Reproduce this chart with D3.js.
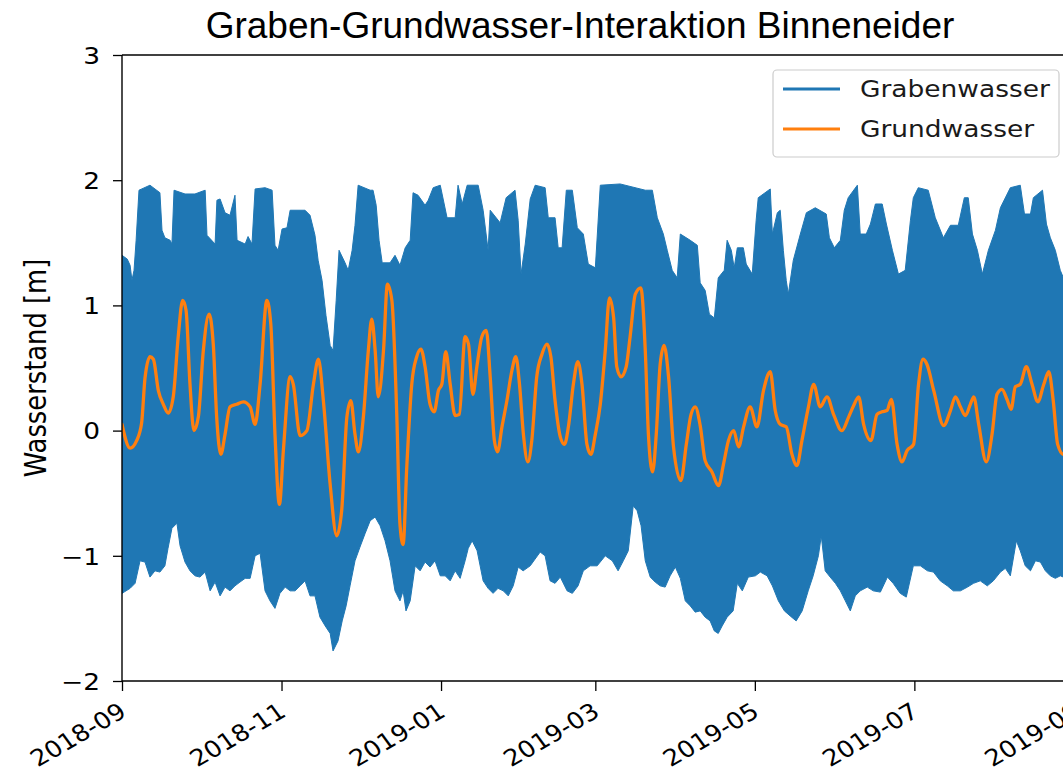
<!DOCTYPE html>
<html>
<head>
<meta charset="utf-8">
<script src="https://cdn.jsdelivr.net/npm/d3@7"></script>
<style>
  html, body { margin: 0; padding: 0; background: #ffffff; }
  svg { display: block; overflow: hidden; }
</style>
</head>
<body>
<svg id="chart" width="1063" height="776"></svg>
<script>
// ---------------- DATA ----------------
const chartTitle = "Graben-Grundwasser-Interaktion Binneneider";
const yLabel = "Wasserstand [m]";
const seriesNames = ["Grabenwasser", "Grundwasser"];
const startDate = "2018-09-01";           // time values below are days since this date
const xTickLabels = ["2018-09", "2018-11", "2019-01", "2019-03", "2019-05", "2019-07", "2019-09"];
const yTickValues = [-2, -1, 0, 1, 2, 3];

// Grabenwasser: tidal signal, upper envelope (high water) and lower envelope (low water)
const highDay = [0, 2, 3.1, 3.8, 4.6, 5.4, 6.5, 10.7, 14.5, 15.3, 16.4, 18.4, 19.1, 19.9, 24.1, 27.9, 31.8, 32.5, 35.6, 36.3,
  37.5, 39.4, 41.3, 43.2, 44.0, 47.1, 48.2, 49.7, 50.9, 54.7, 57.4, 58.5, 59.7, 61.2, 63.1, 64.3, 70.0, 71.9, 73.8, 75.0,
  76.5, 78.0, 79.6, 80.7, 81.9, 83.0, 85.3, 86.5, 88.0, 89.1, 90.3, 94.9, 96.0, 97.2, 98.3, 99.5, 102.5, 104.4, 106.3, 108.3,
  110.2, 111.3, 113.2, 115.9, 117.1, 119.0, 121.7, 124.3, 127.4, 128.5, 130.1, 132.0, 136.2, 138.1, 140.0, 140.8, 144.6, 146.9, 150.3, 151.5,
  152.6, 154.2, 156.1, 158.0, 161.8, 163.0, 165.6, 166.8, 168.3, 169.9, 172.2, 174.1, 176.4, 178.3, 181.0, 182.9, 190.5, 200.1, 202.8, 204.7,
  207.0, 208.5, 210.4, 212.3, 213.5, 217.3, 220.0, 221.1, 223.0, 224.6, 226.5, 228.0, 230.3, 231.4, 233.0, 234.1, 235.3, 237.6, 238.7, 241.0,
  242.5, 243.3, 247.9, 248.7, 250.6, 251.7, 252.9, 254.0, 254.8, 256.7, 259.4, 261.7, 265.1, 269.3, 270.5, 272.4, 274.7, 276.2, 277.7, 281.2,
  282.3, 284.6, 286.2, 288.1, 290.7, 292.3, 294.6, 296.9, 299.5, 301.5, 302.6, 304.5, 308.3, 311.0, 314.1, 316.8, 319.8, 322.1, 323.6, 325.2,
  327.1, 329.0, 331.3, 334.0, 335.9, 339.7, 343.5, 345.1, 347.4, 348.5, 352.0, 353.5, 355.0, 356.9, 358.8, 360.0, 363.0, 366.0];
const highLevel = [1.40, 1.37, 1.32, 1.20, 1.28, 1.52, 1.92, 1.96, 1.90, 1.60, 1.54, 1.52, 1.49, 1.92, 1.89, 1.89, 1.92, 1.56, 1.49, 1.84,
  1.85, 1.74, 1.72, 1.88, 1.52, 1.49, 1.55, 1.49, 1.93, 1.94, 1.92, 1.48, 1.44, 1.61, 1.62, 1.76, 1.76, 1.72, 1.56, 1.36,
  1.20, 0.92, 0.68, 0.64, 1.04, 1.44, 1.34, 1.28, 1.44, 1.64, 1.96, 1.92, 1.92, 1.80, 1.52, 1.34, 1.34, 1.40, 1.32, 1.46,
  1.52, 1.90, 1.88, 1.80, 1.84, 1.94, 1.96, 1.70, 1.70, 1.96, 1.81, 1.96, 1.96, 1.76, 1.44, 1.76, 1.66, 1.86, 1.92, 1.68,
  1.25, 1.49, 1.85, 1.96, 1.94, 1.70, 1.70, 1.46, 1.46, 1.92, 1.92, 1.62, 1.57, 1.33, 1.30, 1.96, 1.97, 1.92, 1.92, 1.70,
  1.57, 1.44, 1.28, 1.22, 1.57, 1.52, 1.48, 1.18, 1.12, 0.93, 0.90, 1.22, 1.28, 1.52, 1.44, 1.30, 1.46, 1.46, 1.33, 1.25,
  1.68, 1.86, 1.93, 1.57, 1.74, 1.76, 1.44, 1.20, 1.09, 1.36, 1.57, 1.74, 1.78, 1.73, 1.54, 1.46, 1.52, 1.76, 1.86, 1.96,
  1.57, 1.57, 1.65, 1.81, 1.81, 1.65, 1.44, 1.25, 1.28, 1.68, 1.86, 1.94, 1.92, 1.70, 1.54, 1.64, 1.64, 1.86, 1.86, 1.57,
  1.44, 1.25, 1.44, 1.60, 1.78, 1.94, 1.96, 1.73, 1.73, 1.86, 1.92, 1.65, 1.54, 1.44, 1.28, 1.22, 1.25, 1.30];

const lowDay = [0, 3.1, 5.0, 6.9, 8.8, 10.7, 12.6, 14.5, 16.4, 17.6, 19.1, 21.0, 22.2, 24.1, 26.0, 27.9, 29.8, 31.8, 33.7, 35.6,
  37.5, 39.4, 41.3, 43.2, 45.1, 47.1, 49.0, 50.9, 52.8, 54.7, 56.6, 58.5, 60.4, 62.4, 64.3, 66.2, 68.1, 70.0, 71.9, 73.8,
  75.7, 77.7, 79.6, 80.7, 82.6, 84.2, 85.7, 87.2, 89.1, 91.0, 93.0, 94.9, 96.8, 98.7, 100.6, 102.5, 104.4, 106.3, 107.5, 108.6,
  110.2, 112.1, 114.0, 115.9, 117.8, 119.7, 121.7, 123.6, 125.5, 127.4, 129.3, 131.2, 132.4, 133.9, 135.8, 138.1, 140.0, 141.9, 143.8, 145.8,
  147.7, 149.6, 151.5, 153.4, 156.1, 159.9, 161.8, 163.7, 165.6, 167.6, 170.2, 172.2, 174.4, 176.4, 179.0, 181.7, 184.8, 187.5, 189.7, 191.7,
  193.6, 195.5, 197.0, 198.5, 200.1, 202.0, 203.9, 205.8, 207.7, 209.6, 211.6, 213.5, 215.4, 217.3, 219.2, 221.1, 223.0, 224.9, 226.5, 228.0,
  229.5, 231.4, 233.7, 235.3, 237.2, 239.5, 242.2, 244.1, 246.7, 248.7, 251.0, 253.3, 255.5, 257.8, 260.1, 262.4, 264.3, 266.3, 267.4, 268.9,
  270.8, 272.8, 274.7, 276.6, 278.5, 280.4, 282.3, 285.0, 287.3, 290.0, 292.7, 294.9, 297.6, 299.9, 302.6, 305.3, 308.0, 310.3, 312.9, 315.6,
  317.9, 320.6, 323.3, 325.6, 328.2, 330.9, 333.2, 335.9, 337.8, 339.7, 342.0, 343.5, 345.4, 347.4, 349.3, 351.2, 353.1, 355.0, 356.9, 358.8,
  360.0, 366.0];
const lowLevel = [-1.30, -1.26, -1.22, -1.04, -1.05, -1.17, -1.12, -1.13, -1.08, -0.94, -0.78, -0.74, -0.92, -1.05, -1.12, -1.16, -1.17, -1.13, -1.28, -1.21,
  -1.32, -1.25, -1.28, -1.24, -1.21, -1.18, -1.18, -1.00, -0.98, -1.28, -1.36, -1.42, -1.30, -1.25, -1.28, -1.28, -1.24, -1.20, -1.32, -1.32,
  -1.49, -1.56, -1.62, -1.76, -1.68, -1.52, -1.40, -1.24, -1.04, -0.93, -0.82, -0.72, -0.69, -0.76, -0.88, -1.04, -1.28, -1.36, -1.28, -1.44,
  -1.36, -1.08, -1.12, -1.05, -1.09, -1.04, -1.16, -1.16, -1.20, -1.12, -1.18, -1.04, -0.94, -0.88, -0.96, -1.20, -1.26, -1.30, -1.26, -1.28,
  -1.32, -1.24, -1.09, -1.12, -1.08, -0.97, -1.00, -1.20, -1.22, -1.17, -1.28, -1.30, -1.24, -1.12, -1.08, -1.08, -1.00, -1.04, -1.12, -1.04,
  -0.96, -0.60, -0.64, -0.76, -1.04, -1.17, -1.21, -1.24, -1.25, -1.16, -1.09, -1.18, -1.36, -1.40, -1.45, -1.44, -1.49, -1.52, -1.60, -1.62,
  -1.56, -1.49, -1.44, -1.22, -1.28, -1.17, -1.16, -1.13, -1.16, -1.24, -1.36, -1.44, -1.48, -1.52, -1.44, -1.28, -1.16, -1.00, -0.84, -1.12,
  -1.17, -1.22, -1.28, -1.36, -1.44, -1.32, -1.28, -1.25, -1.28, -1.29, -1.17, -1.22, -1.30, -1.33, -1.08, -1.08, -1.12, -1.13, -1.20, -1.24,
  -1.28, -1.28, -1.25, -1.22, -1.20, -1.24, -1.20, -1.13, -1.10, -1.16, -0.88, -0.96, -1.08, -1.12, -1.04, -1.05, -1.12, -1.16, -1.18, -1.16,
  -1.17, -1.20];

// Grundwasser
const gwDay = [0, 3.1, 5.6, 7.5, 8.8, 10.7, 12.0, 13.9, 15.8, 17.7, 19.6, 21.5, 23.2, 24.5, 26.0, 27.5, 29.2, 31.1, 33.3, 34.9,
  36.2, 37.8, 39.4, 41.3, 43.9, 46.4, 49.0, 50.9, 52.8, 55.4, 56.9, 58.5, 60.2, 61.7, 64.3, 65.5, 68.1, 70.7, 73.2, 75.1,
  77.0, 79.6, 82.1, 84.0, 86.0, 87.5, 89.1, 90.4, 92.3, 94.2, 95.5, 96.8, 98.0, 100.0, 101.5, 103.2, 105.1, 106.3, 107.5, 108.9,
  110.8, 112.7, 114.3, 115.9, 117.8, 119.4, 121.0, 122.3, 123.8, 125.5, 127.4, 129.0, 131.2, 132.5, 134.2, 135.7, 137.6, 139.3, 140.8, 142.4,
  143.6, 145.3, 147.2, 149.1, 150.6, 152.0, 153.5, 155.2, 156.7, 158.6, 160.6, 162.5, 164.0, 165.6, 167.6, 169.2, 170.7, 172.6, 174.3, 175.9,
  177.8, 179.3, 181.0, 182.9, 184.8, 186.4, 188.0, 189.2, 190.8, 192.8, 194.3, 196.3, 198.4, 200.1, 201.3, 202.9, 204.3, 205.8, 207.3, 209.0,
  210.9, 213.7, 215.8, 217.6, 219.2, 221.1, 223.0, 225.6, 228.1, 230.0, 231.9, 233.9, 235.8, 237.7, 240.2, 242.8, 245.3, 247.9, 249.8, 251.7,
  254.0, 256.2, 258.1, 260.0, 262.5, 264.5, 267.0, 269.6, 272.1, 275.3, 277.9, 279.8, 281.7, 283.6, 286.4, 288.7, 290.6, 292.5, 294.2, 296.4,
  298.3, 300.2, 302.7, 304.6, 306.3, 307.8, 310.4, 314.2, 316.8, 318.7, 320.6, 322.5, 324.4, 325.7, 327.6, 330.5, 332.7, 334.6, 336.5, 338.4,
  340.0, 341.6, 343.5, 345.8, 348.0, 350.2, 352.5, 354.4, 356.1, 357.8, 360.0, 363.0];
const gwLevel = [0.05, -0.14, -0.08, 0.06, 0.42, 0.59, 0.57, 0.32, 0.21, 0.14, 0.27, 0.75, 1.04, 0.96, 0.37, 0.00, 0.11, 0.64, 0.93, 0.69,
  0.11, -0.19, -0.03, 0.19, 0.21, 0.23, 0.19, 0.05, 0.37, 1.04, 0.85, -0.03, -0.59, -0.16, 0.43, 0.37, -0.04, 0.00, 0.37, 0.57,
  0.24, -0.43, -0.84, -0.64, 0.11, 0.24, -0.03, -0.17, 0.11, 0.64, 0.89, 0.64, 0.27, 0.64, 1.17, 1.04, 0.11, -0.75, -0.91, -0.29,
  0.37, 0.59, 0.65, 0.51, 0.21, 0.15, 0.32, 0.37, 0.63, 0.37, 0.12, 0.13, 0.75, 0.69, 0.29, 0.51, 0.75, 0.80, 0.43, -0.08,
  -0.17, 0.03, 0.24, 0.48, 0.59, 0.37, -0.03, -0.25, -0.08, 0.43, 0.61, 0.69, 0.59, 0.24, -0.05, -0.11, 0.03, 0.37, 0.55, 0.37,
  -0.11, -0.19, -0.03, 0.21, 0.64, 1.06, 0.90, 0.51, 0.43, 0.51, 0.75, 1.09, 1.14, 0.64, -0.03, -0.33, -0.03, 0.53, 0.68, 0.43,
  -0.13, -0.40, -0.11, 0.13, 0.19, 0.04, -0.24, -0.33, -0.44, -0.27, -0.08, 0.00, -0.13, 0.03, 0.19, 0.03, 0.32, 0.47, 0.16, 0.05,
  0.03, -0.19, -0.28, -0.08, 0.19, 0.37, 0.19, 0.27, 0.13, 0.00, 0.11, 0.20, 0.27, 0.05, -0.08, 0.13, 0.15, 0.16, 0.25, -0.11,
  -0.25, -0.16, -0.11, 0.37, 0.57, 0.53, 0.32, 0.04, 0.16, 0.27, 0.19, 0.12, 0.21, 0.27, 0.05, -0.25, -0.03, 0.29, 0.33, 0.25,
  0.17, 0.35, 0.37, 0.51, 0.37, 0.23, 0.37, 0.47, 0.24, -0.11, -0.19, -0.15];

// ---------------- CHART ----------------
const margin = { plotRight: 1090 };
const textStretch = 1.15;   // horizontal stretch of the reference rendering
const blue = "#1f77b4", orange = "#ff7f0e";

const parse = d3.timeParse("%Y-%m-%d");
const t0 = parse(startDate);
const toDate = d => new Date(t0.getTime() + d * 86400000);
const tickDates = xTickLabels.map(s => d3.timeParse("%Y-%m")(s));

const x = d3.scaleTime()
  .domain([parse("2018-09-01"), parse("2019-09-01")])
  .range([122, 1076.5]);
const y = d3.scaleLinear().domain([-2, 3]).range([681, 55]);

const svg = d3.select("#chart");

svg.append("defs").append("clipPath").attr("id", "plotclip")
  .append("rect")
  .attr("x", x.range()[0]).attr("y", y(3))
  .attr("width", margin.plotRight - x.range()[0]).attr("height", y(-2) - y(3));

const plot = svg.append("g").attr("clip-path", "url(#plotclip)");

// Grabenwasser band (dense tidal line seen as a band between high and low water)
const highPts = highDay.map((d, i) => ({ t: toDate(d), v: highLevel[i] }));
const lowPts = lowDay.map((d, i) => ({ t: toDate(d), v: lowLevel[i] })).reverse();
const bandLine = d3.line().x(p => x(p.t)).y(p => y(p.v));
plot.append("path")
  .attr("d", bandLine(highPts.concat(lowPts)) + "Z")
  .attr("fill", blue)
  .attr("stroke", blue)
  .attr("stroke-width", 1)
  .attr("stroke-linejoin", "round");

// Grundwasser line
const gwPts = gwDay.map((d, i) => ({ t: toDate(d), v: gwLevel[i] }));
plot.append("path")
  .attr("d", d3.line().x(p => x(p.t)).y(p => y(p.v)).curve(d3.curveMonotoneX)(gwPts))
  .attr("fill", "none")
  .attr("stroke", orange)
  .attr("stroke-width", 3.3)
  .attr("stroke-linejoin", "round")
  .attr("stroke-linecap", "round");

// Spines
const spineColor = "#000000";
svg.append("line").attr("x1", 122).attr("x2", 122).attr("y1", y(3)).attr("y2", y(-2))
  .attr("stroke", spineColor).attr("stroke-width", 1.4);
svg.append("line").attr("x1", 122).attr("x2", margin.plotRight).attr("y1", y(3)).attr("y2", y(3))
  .attr("stroke", spineColor).attr("stroke-width", 1.4);
svg.append("line").attr("x1", 122).attr("x2", margin.plotRight).attr("y1", y(-2)).attr("y2", y(-2))
  .attr("stroke", spineColor).attr("stroke-width", 1.4);

// Y axis
const yAxis = svg.append("g").attr("transform", "translate(122,0)")
  .call(d3.axisLeft(y).tickValues(yTickValues).tickSize(9).tickPadding(0)
    .tickFormat(d => (d < 0 ? "\u2212" : "") + Math.abs(d)));
yAxis.select(".domain").remove();
yAxis.selectAll(".tick line").attr("stroke", "#000").attr("stroke-width", 1.3);
yAxis.selectAll(".tick text")
  .attr("x", null).attr("dy", null)
  .attr("text-anchor", "end")
  .attr("transform", `translate(-22,0) scale(${textStretch},1)`)
  .attr("dy", "0.36em")
  .style("font-family", "'DejaVu Sans', sans-serif")
  .style("font-size", "23px")
  .attr("fill", "#000");

// X axis
const xAxis = svg.append("g").attr("transform", `translate(0,${y(-2)})`)
  .call(d3.axisBottom(x).tickValues(tickDates).tickSize(10).tickPadding(0)
    .tickFormat(d3.timeFormat("%Y-%m")));
xAxis.select(".domain").remove();
xAxis.selectAll(".tick line").attr("stroke", "#000").attr("stroke-width", 1.3);
xAxis.selectAll(".tick text")
  .attr("y", null).attr("dy", null)
  .attr("text-anchor", "end")
  .attr("transform", `translate(-5,20) scale(1.12,1) rotate(-33)`)
  .attr("dy", "0.74em")
  .style("font-family", "'DejaVu Sans', sans-serif")
  .style("font-size", "23px")
  .attr("fill", "#000");

// Y label
svg.append("text")
  .attr("transform", `translate(46,${(y(3) + y(-2)) / 2}) scale(${textStretch},1) rotate(-90)`)
  .attr("text-anchor", "middle")
  .style("font-family", "'DejaVu Sans', sans-serif")
  .style("font-size", "25.8px")
  .attr("fill", "#000")
  .text(yLabel);

// Title
svg.append("text")
  .attr("x", 580).attr("y", 38)
  .attr("text-anchor", "middle")
  .style("font-family", "'Liberation Sans', Arial, sans-serif")
  .style("font-size", "37px")
  .attr("fill", "#000")
  .text(chartTitle);

// Legend
const legend = svg.append("g");
legend.append("rect")
  .attr("x", 773).attr("y", 70).attr("width", 286).attr("height", 87).attr("rx", 4)
  .attr("fill", "#ffffff").attr("fill-opacity", 0.8)
  .attr("stroke", "#cccccc").attr("stroke-width", 1.2);
[blue, orange].forEach((c, i) => {
  const ly = 89 + i * 40;
  legend.append("line").attr("x1", 783).attr("x2", 840).attr("y1", ly).attr("y2", ly)
    .attr("stroke", c).attr("stroke-width", 3);
  legend.append("text")
    .attr("transform", `translate(860,${ly + 8}) scale(${textStretch},1)`)
    .style("font-family", "'DejaVu Sans', sans-serif")
    .style("font-size", "23px")
    .attr("fill", "#1a1a1a")
    .text(seriesNames[i]);
});
</script>
</body>
</html>
